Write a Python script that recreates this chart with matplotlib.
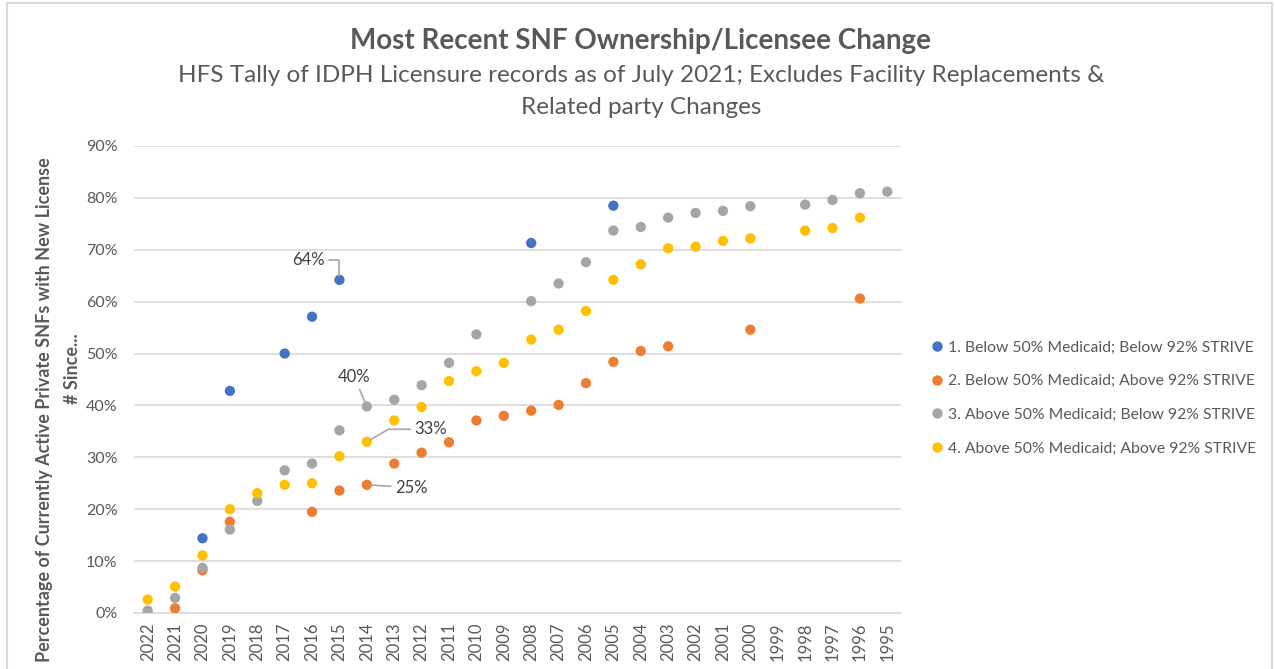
import numpy as np
import matplotlib
matplotlib.use('Agg')
import matplotlib.pyplot as plt
from matplotlib.lines import Line2D

plt.rcParams['font.family'] = ['Lato', 'DejaVu Sans']

# category axis, most recent year first
years = ['2022', '2021', '2020', '2019', '2018', '2017', '2016', '2015', '2014', '2013',
         '2012', '2011', '2010', '2009', '2008', '2007', '2006', '2005', '2004', '2003',
         '2002', '2001', '2000', '1999', '1998', '1997', '1996', '1995']

nan = np.nan
# percentages (NaN = no point)
below50_below92 = [nan, nan, 14.4, 42.8, nan, 50.0, 57.1, 64.2, nan, nan,
                   nan, nan, nan, nan, 71.3, nan, nan, 78.5, nan, nan,
                   nan, nan, nan, nan, nan, nan, nan, nan]
below50_above92 = [nan, 0.9, 8.2, 17.6, nan, nan, 19.5, 23.6, 24.7, 28.8,
                   30.9, 32.9, 37.1, 38.0, 39.0, 40.1, 44.3, 48.4, 50.5, 51.4,
                   nan, nan, 54.6, nan, nan, nan, 60.6, nan]
above50_below92 = [0.45, 2.9, 8.7, 16.1, 21.6, 27.5, 28.8, 35.2, 39.8, 41.1,
                   43.9, 48.2, 53.7, nan, 60.1, 63.5, 67.6, 73.7, 74.4, 76.2,
                   77.1, 77.5, 78.4, nan, 78.7, 79.6, 80.9, 81.2]
above50_above92 = [2.6, 5.1, 11.1, 20.0, 23.1, 24.7, 25.0, 30.2, 33.0, 37.1,
                   39.7, 44.7, 46.6, 48.2, 52.7, 54.6, 58.2, 64.2, 67.2, 70.3,
                   70.6, 71.7, 72.2, nan, 73.7, 74.2, 76.2, nan]

series_names = ['1. Below 50% Medicaid; Below 92% STRIVE',
                '2. Below 50% Medicaid; Above 92% STRIVE',
                '3. Above 50% Medicaid; Below 92% STRIVE',
                '4. Above 50% Medicaid; Above 92% STRIVE']
series_vals = [below50_below92, below50_above92, above50_below92, above50_above92]
colors = ['#4472C4', '#ED7D31', '#A5A5A5', '#FFC000']

fig = plt.figure(figsize=(12.75, 6.69), dpi=100)
ax = fig.add_axes([134 / 1275, 1 - 613 / 669, (901 - 134) / 1275, (613 - 146) / 669])

x = np.arange(len(years))
for name, vals, c in zip(series_names, series_vals, colors):
    ax.scatter(x, np.array(vals) / 100, s=55, color=c, edgecolors='none', zorder=3, label=name)

ax.set_xlim(-0.5, len(years) - 0.5)
ax.set_ylim(0, 0.9)
ax.set_yticks(np.arange(0, 0.91, 0.1))
ax.set_yticklabels([f'{int(round(v * 100))}%' for v in np.arange(0, 0.91, 0.1)])
ax.set_xticks(x)
ax.set_xticklabels(years, rotation=90)
ax.tick_params(axis='both', length=0, labelsize=11.5, colors='#595959')
ax.tick_params(axis='x', labelsize=12, pad=7)
ax.tick_params(axis='y', pad=12)
ax.grid(axis='y', color='#d9d9d9', linewidth=1.2)
ax.set_axisbelow(True)
for s in ['top', 'right', 'left']:
    ax.spines[s].set_visible(False)
ax.spines['bottom'].set_color('#d9d9d9')
ax.spines['bottom'].set_linewidth(1.2)

# data labels with leader lines
lead = dict(arrowstyle='-', color='#a6a6a6', lw=1.2, shrinkA=1, shrinkB=3)
i14 = years.index('2014')
i15 = years.index('2015')
ax.annotate('64%', xy=(i15, below50_below92[i15] / 100), xytext=(-22, 14.5),
            textcoords='offset points', ha='center', va='center', fontsize=12, color='#404040',
            arrowprops=dict(lead, connectionstyle='angle,angleA=0,angleB=90,rad=0'))
ax.annotate('40%', xy=(i14, above50_below92[i14] / 100), xytext=(-9, 21),
            textcoords='offset points', ha='center', va='center', fontsize=12, color='#404040',
            arrowprops=lead)
ax.annotate('33%', xy=(i14, above50_above92[i14] / 100), xytext=(46, 9),
            textcoords='offset points', ha='center', va='center', fontsize=12, color='#404040',
            arrowprops=dict(lead, connectionstyle='angle,angleA=0,angleB=30,rad=0'))
ax.annotate('25%', xy=(i14, below50_above92[i14] / 100), xytext=(32, -2),
            textcoords='offset points', ha='center', va='center', fontsize=12, color='#404040',
            arrowprops=lead)

# titles
fig.text(641 / 1275, 1 - 41 / 669, 'Most Recent SNF Ownership/Licensee Change',
         ha='center', va='center', fontsize=20, fontweight='bold', color='#595959')
fig.text(641 / 1275, 1 - 75 / 669,
         'HFS Tally of IDPH Licensure records as of July 2021; Excludes Facility Replacements &',
         ha='center', va='center', fontsize=17.5, color='#595959')
fig.text(641 / 1275, 1 - 107 / 669, 'Related party Changes',
         ha='center', va='center', fontsize=17.5, color='#595959')

# y axis title (two lines)
fig.text(45 / 1275, 1 - 410 / 669, 'Percentage of Currently Active Private SNFs with New License',
         rotation=90, ha='center', va='center', fontsize=13, fontweight='bold', color='#595959')
fig.text(72 / 1275, 1 - 369 / 669, '# Since...',
         rotation=90, ha='center', va='center', fontsize=13, fontweight='bold', color='#595959')

# legend
handles = [Line2D([], [], marker='o', linestyle='none', markersize=7.5, color=c,
                  markeredgewidth=0) for c in colors]
fig.legend(handles, series_names, loc='center left', bbox_to_anchor=(920 / 1275, 1 - 398 / 669),
           frameon=False, fontsize=11.3, labelcolor='#595959', handletextpad=0.1,
           handlelength=1.2, labelspacing=1.25, borderpad=0)

# light chart border
fig.add_artist(Line2D([7 / 1275, 7 / 1275, 1272 / 1275, 1272 / 1275],
                      [0, 1 - 3 / 669, 1 - 3 / 669, 0], transform=fig.transFigure,
                      color='#d9d9d9', lw=1.5))

fig.savefig('out.png', dpi=100)
